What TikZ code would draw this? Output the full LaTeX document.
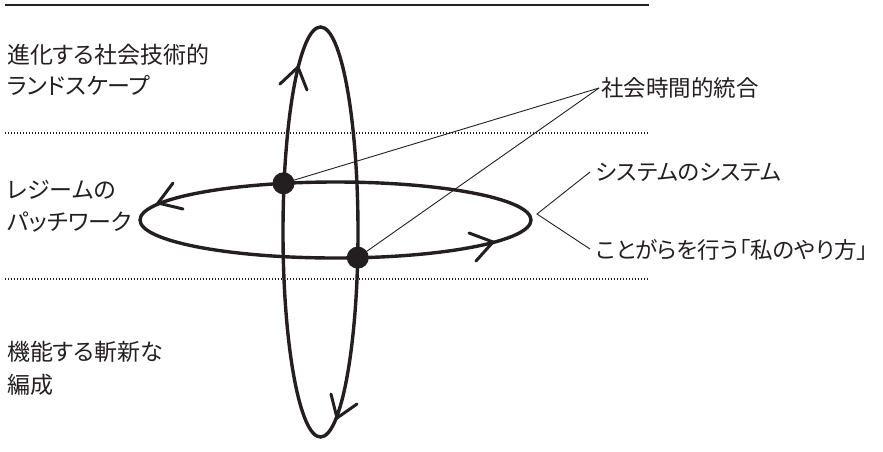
\documentclass[tikz,border=0pt]{standalone}
\usepackage{fontspec}
\newfontfamily\jpfont[RawFeature=+palt]{Noto Sans CJK JP}
\definecolor{ink}{HTML}{231F20}
\begin{document}
\begin{tikzpicture}[x=1pt,y=-1pt,
  lbl/.style={anchor=west,inner sep=0pt,text=ink,font=\jpfont\fontsize{23}{27}\selectfont},
  rlbl/.style={anchor=west,inner sep=0pt,text=ink,font=\jpfont\fontsize{22.5}{27}\selectfont},
  orbit/.style={draw=ink,line width=3.4pt},
  barb/.style={draw=ink,line width=3pt,line cap=round,line join=miter},
  thin/.style={draw=ink,line width=0.9pt},
  sep/.style={draw=ink,line width=1.1pt,dash pattern=on 1.1pt off 1.9pt},
  dot/.style={circle,fill=ink,inner sep=0pt,minimum size=22pt}]
\useasboundingbox (0,0) rectangle (883,451);
% rules
\draw[draw=ink,line width=2.6pt] (5,5) -- (649,5);
\draw[sep] (5,133) -- (649,133);
\draw[sep] (5,279) -- (649,279);
% orbits
\draw[orbit] (320.5,232) ellipse [x radius=37.5, y radius=205];
\draw[orbit] (335.5,220) ellipse [x radius=195.5, y radius=38];
% arrow barbs
\draw[barb] (280,84) -- (298,67) -- (307,90);
\draw[barb] (331,394) -- (337,418) -- (357,404);
\draw[barb] (173,183) -- (158,203) -- (183,209);
\draw[barb] (469,233) -- (493,242) -- (476,261);
% intersection dots
\node[dot] (d1) at (283.5,183.3) {};
\node[dot] (d2) at (357.8,257.6) {};
% labels
\node[lbl] (t1) at (7,55) {進化する社会技術的};
\node[lbl] (t2) at (7,85) {ランドスケープ};
\node[lbl] (t3) at (7,190) {レジームの};
\node[lbl] (t4) at (7,222) {パッチワーク};
\node[lbl] (t5) at (7,352) {機能する斬新な};
\node[lbl] (t6) at (7,385) {編成};
\node[rlbl] (r1) at (601,88) {社会時間的統合};
\node[rlbl] (r2) at (596,172) {システムのシステム};
\node[rlbl] (r3) at (596,250) {ことがらを行う「私のやり方」};
% connectors
\coordinate (c) at (599,88);
\draw[thin] (d1.center) -- (c);
\draw[thin] (d2.center) -- (c);
\coordinate (bv) at (537,214);
\coordinate (bu) at (590,172);
\coordinate (bl) at (590,249);
\draw[thin] (bu) -- (bv) -- (bl);
\end{tikzpicture}
\end{document}
